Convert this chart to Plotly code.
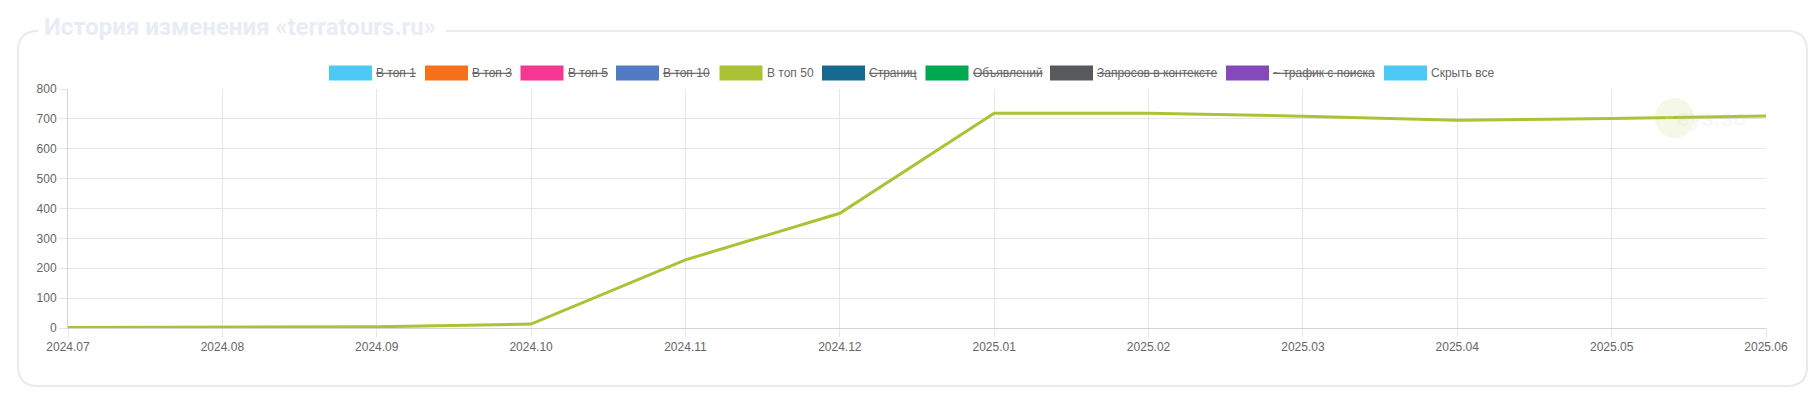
import plotly.graph_objects as go

# ---- data ----
months = ["2024.07", "2024.08", "2024.09", "2024.10", "2024.11", "2024.12",
          "2025.01", "2025.02", "2025.03", "2025.04", "2025.05", "2025.06"]
top50 = [2, 3, 4, 13, 228, 384, 719, 719, 709, 695, 701, 710]

legend_names = ["В топ 1", "В топ 3", "В топ 5", "В топ 10", "В топ 50", "Страниц",
                "Объявлений", "Запросов в контексте", "~ трафик с поиска", "Скрыть все"]
legend_colors = ["#4dc9f6", "#f67019", "#f53794", "#537bc4", "#acc236", "#166a8f",
                 "#00a950", "#58595b", "#8549ba", "#4dc9f6"]
legend_hidden = [True, True, True, True, False, True, True, True, True, False]
title_text = "История изменения «terratours.ru»"
y_ticks = [0, 100, 200, 300, 400, 500, 600, 700, 800]

# ---- layout geometry (page pixels; page body has an 8px margin) ----
O = 8
W, H = 1816 - 2 * O, 399 - 2 * O
ML, MR, MT, MB = 68 - O, 50 - O, 89 - O, 71 - O
PW, PH = W - ML - MR, H - MT - MB


def px(x):
    return (x - O - ML) / PW


def py(y):
    return (H - MB - (y - O)) / PH


FONT = "Liberation Sans, Arial, Helvetica, sans-serif"
GRID = "#e6e6e6"
TXT = "#666666"

fig = go.Figure()
fig.add_trace(go.Scatter(
    x=months, y=top50, mode="lines", name="В топ 50",
    line=dict(color="#acc236", width=3), showlegend=False,
    hoverinfo="x+y"))

shapes = []
annotations = []

# card (fieldset-like rounded border with gap for title)
L, R, T, B, r = 18, 1807, 31, 386, 20
gap_end = 446
path = (f"M {px(L + r)},{py(T)} Q {px(L)},{py(T)} {px(L)},{py(T + r)} "
        f"L {px(L)},{py(B - r)} Q {px(L)},{py(B)} {px(L + r)},{py(B)} "
        f"L {px(R - r)},{py(B)} Q {px(R)},{py(B)} {px(R)},{py(B - r)} "
        f"L {px(R)},{py(T + r)} Q {px(R)},{py(T)} {px(R - r)},{py(T)} "
        f"L {px(gap_end)},{py(T)}")
shapes.append(dict(type="path", xref="paper", yref="paper", path=path,
                   line=dict(color="#e7eaee", width=2), layer="below"))

annotations.append(dict(text=f"<b>{title_text}</b>", xref="paper", yref="paper",
                        x=px(42), y=py(27), xanchor="left", yanchor="middle",
                        showarrow=False,
                        font=dict(family="Roboto, Arial", size=24, color="#e8edf5")))

# watermark
shapes.append(dict(type="circle", xref="paper", yref="paper",
                   x0=px(1655), x1=px(1694), y0=py(98), y1=py(138),
                   fillcolor="rgba(172,194,54,0.12)", line=dict(width=0), layer="below"))
annotations.append(dict(text="<b><span style='color:rgba(255,255,255,0.9)'>k</span>eys.so</b>",
                        xref="paper", yref="paper", x=px(1662), y=py(118),
                        xanchor="left", yanchor="middle", showarrow=False,
                        font=dict(family="Roboto, Arial", size=24, color="rgba(200,200,200,0.14)")))

# custom chart.js style legend
box_lefts = [329, 425, 520.5, 616, 719.5, 822, 925.5, 1050, 1226, 1384]
LEG_Y = 73
for name, col, hid, bx in zip(legend_names, legend_colors, legend_hidden, box_lefts):
    shapes.append(dict(type="rect", xref="paper", yref="paper",
                       x0=px(bx + 1.5), x1=px(bx + 41.5), y0=py(LEG_Y - 6), y1=py(LEG_Y + 6),
                       fillcolor=col, line=dict(color=col, width=3)))
    label = f"<s>{name}</s>" if hid else name
    annotations.append(dict(text=label, xref="paper", yref="paper",
                            x=px(bx + 45), y=py(LEG_Y), xanchor="left", yanchor="middle",
                            showarrow=False, font=dict(family=FONT, size=12, color=TXT)))

fig.update_layout(
    width=W, height=H, autosize=False,
    margin=dict(l=ML, r=MR, t=MT, b=MB, pad=0),
    paper_bgcolor="white", plot_bgcolor="white",
    showlegend=False,
    shapes=shapes, annotations=annotations,
    font=dict(family=FONT, size=12, color=TXT),
    xaxis=dict(type="category", range=[0, len(months) - 1], showgrid=True, gridcolor=GRID,
               gridwidth=1, showline=True, linecolor="#d4d4d4", linewidth=1,
               ticks="outside", ticklen=8, tickcolor=GRID, zeroline=False,
               tickfont=dict(family=FONT, size=12, color=TXT), fixedrange=True),
    yaxis=dict(range=[0, 800], tickvals=y_ticks, showgrid=True, gridcolor=GRID,
               gridwidth=1, showline=True, linecolor="#d4d4d4", linewidth=1,
               ticks="outside", ticklen=8, tickcolor=GRID, zeroline=False,
               tickfont=dict(family=FONT, size=12, color=TXT), fixedrange=True),
)

fig.write_html("out.html")
